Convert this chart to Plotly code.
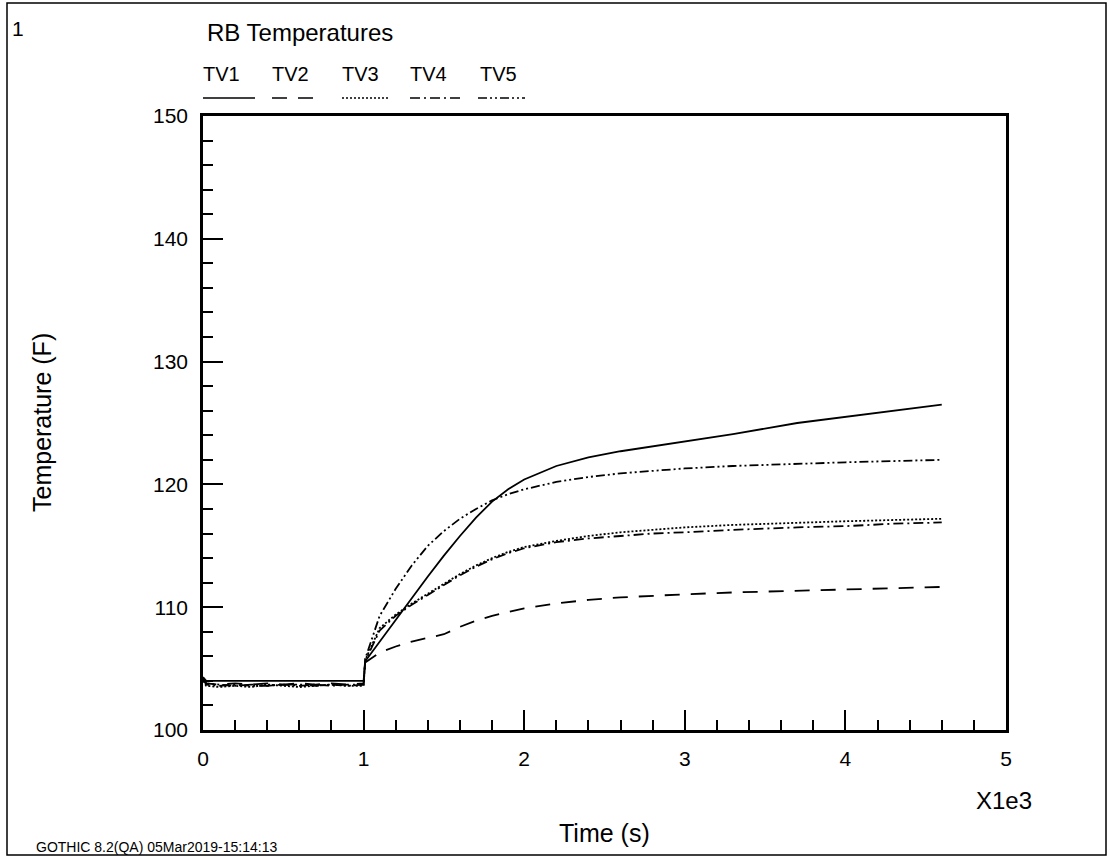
import plotly.graph_objects as go

# Time points (s)
time_s = [0, 20, 100, 200, 300, 400, 500, 600, 700, 800, 900, 1000, 1010,
          1100, 1200, 1300, 1400, 1500, 1600, 1700, 1800, 1900, 2000,
          2200, 2400, 2600, 2800, 3000, 3300, 3700, 4000, 4300, 4600]

# Temperatures (F)
tv1 = [104.3, 104.0, 104.0, 104.0, 104.0, 104.0, 104.0, 104.0, 104.0, 104.0, 104.0, 104.0, 105.6,
       107.2, 108.9, 110.7, 112.5, 114.2, 115.8, 117.3, 118.6, 119.6, 120.4,
       121.5, 122.2, 122.7, 123.1, 123.5, 124.1, 125.0, 125.5, 126.0, 126.5]
tv2 = [104.1, 103.8, 103.7, 103.8, 103.7, 103.8, 103.7, 103.8, 103.7, 103.8, 103.7, 103.8, 105.5,
       106.3, 106.8, 107.2, 107.5, 107.8, 108.4, 108.9, 109.3, 109.6, 109.9,
       110.3, 110.6, 110.8, 110.95, 111.05, 111.2, 111.35, 111.45, 111.55, 111.65]
tv3 = [104.0, 103.6, 103.5, 103.6, 103.5, 103.7, 103.6, 103.5, 103.6, 103.7, 103.6, 103.6, 105.7,
       108.3, 109.4, 110.3, 111.1, 111.9, 112.7, 113.4, 114.0, 114.5, 114.9,
       115.4, 115.8, 116.1, 116.3, 116.5, 116.7, 116.9, 117.0, 117.1, 117.2]
tv4 = [104.2, 103.7, 103.6, 103.7, 103.6, 103.6, 103.7, 103.6, 103.7, 103.6, 103.7, 103.7, 105.6,
       108.1, 109.3, 110.2, 111.0, 111.8, 112.6, 113.3, 113.9, 114.4, 114.8,
       115.3, 115.6, 115.8, 116.0, 116.1, 116.3, 116.5, 116.6, 116.8, 116.9]
tv5 = [104.2, 103.8, 103.7, 103.6, 103.7, 103.6, 103.7, 103.7, 103.6, 103.7, 103.6, 103.7, 105.8,
       109.3, 111.5, 113.4, 115.0, 116.2, 117.2, 118.0, 118.7, 119.2, 119.6,
       120.2, 120.6, 120.9, 121.1, 121.3, 121.5, 121.7, 121.8, 121.9, 122.0]

series_names = ["TV1", "TV2", "TV3", "TV4", "TV5"]
series_vals = [tv1, tv2, tv3, tv4, tv5]
dashes = ["solid", "15px,11px", "2px,2px", "10px,4px,2px,4px", "9px,3px,2px,3px,2px,3px"]

x_ticks = [0, 1, 2, 3, 4, 5]
y_ticks = [100, 110, 120, 130, 140, 150]

FONT = "Liberation Sans, Arial, sans-serif"

# plot-area pixel geometry
L, R, T, B = 203, 1006, 116, 730
W, H = R - L, B - T


def px(x):
    return (x - L) / W


def py(y):
    return (B - y) / H


fig = go.Figure()
t_k = [t / 1000 for t in time_s]
for name, vals, d in zip(series_names, series_vals, dashes):
    fig.add_trace(go.Scatter(x=t_k, y=vals, mode="lines", name=name,
                             line=dict(color="black", width=1.8, dash=d),
                             showlegend=False))

shapes = []
annotations = []

# outer page frame
shapes.append(dict(type="rect", xref="paper", yref="paper",
                   x0=px(7), x1=px(1106), y0=py(855), y1=py(3),
                   line=dict(color="black", width=1.5)))

# legend row: names above line samples
leg_text_x = [221, 290, 360, 428, 498]
leg_line = [(203, 255), (272, 315), (342, 389), (410, 460), (478, 525)]
for name, tx, (a, b), d in zip(series_names, leg_text_x, leg_line, dashes):
    annotations.append(dict(x=px(tx), y=py(74), xref="paper", yref="paper",
                            text=name, showarrow=False, xanchor="center", yanchor="middle",
                            font=dict(family=FONT, size=20, color="black")))
    shapes.append(dict(type="line", xref="paper", yref="paper",
                       x0=px(a), x1=px(b), y0=py(98), y1=py(98),
                       line=dict(color="black", width=1.6, dash=d)))


def label(x, y, text, size, xanchor="center", angle=0):
    return dict(x=px(x), y=py(y), xref="paper", yref="paper", text=text,
                showarrow=False, xanchor=xanchor, yanchor="middle", textangle=angle,
                font=dict(family=FONT, size=size, color="black"))


annotations += [
    label(10, 29, "1", 21, xanchor="left"),
    label(205, 33, "RB Temperatures", 24, xanchor="left"),
    label(604, 833, "Time (s)", 25),
    label(1004, 800, "X1e3", 24),
    label(42, 423, "Temperature (F)", 25, angle=-90),
    label(34, 847, "GOTHIC 8.2(QA) 05Mar2019-15:14:13", 14, xanchor="left"),
]

fig.update_layout(
    width=1110, height=857,
    margin=dict(l=L, r=1110 - R, t=T, b=857 - B, pad=0),
    paper_bgcolor="white", plot_bgcolor="white",
    shapes=shapes, annotations=annotations,
    font=dict(family=FONT, size=20, color="black"),
    xaxis=dict(range=[0, 5], tickvals=x_ticks, ticktext=[str(v) for v in x_ticks],
               ticks="inside", ticklen=20, tickwidth=1.5, tickcolor="black",
               minor=dict(ticks="inside", ticklen=10, dtick=0.2, tickwidth=1.5, tickcolor="black"),
               showline=True, linewidth=2.5, linecolor="black", mirror=True,
               showgrid=False, zeroline=False, ticklabelstandoff=8,
               tickfont=dict(family=FONT, size=21, color="black")),
    yaxis=dict(range=[100, 150], tickvals=y_ticks,
               ticks="inside", ticklen=20, tickwidth=1.5, tickcolor="black",
               minor=dict(ticks="inside", ticklen=10, dtick=2, tickwidth=1.5, tickcolor="black"),
               showline=True, linewidth=2.5, linecolor="black", mirror=True,
               showgrid=False, zeroline=False, ticklabelstandoff=8,
               tickfont=dict(family=FONT, size=21, color="black")),
)

fig.write_html("out.html")
